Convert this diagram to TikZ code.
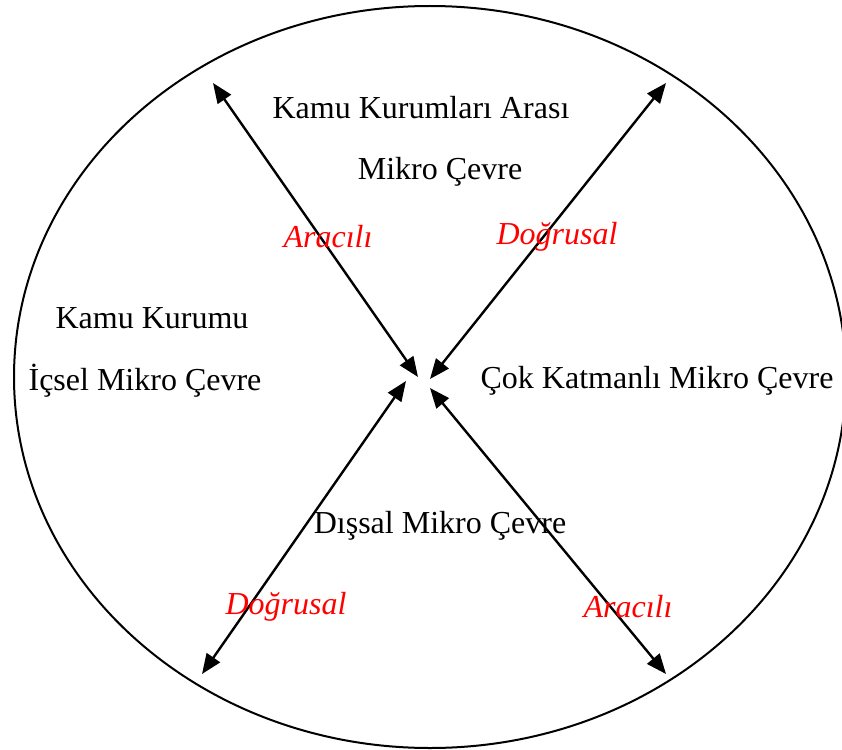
\documentclass[tikz,border=0pt]{standalone}
\usepackage{fontspec}
\setmainfont{Liberation Serif}
\usetikzlibrary{arrows.meta}
\begin{document}
\begin{tikzpicture}[x=1pt,y=-1pt,
  lbl/.style={font=\fontsize{32}{37}\selectfont, inner sep=0pt, anchor=center},
  rlbl/.style={font=\fontsize{32}{37}\selectfont\itshape, text=red, inner sep=0pt, anchor=center},
  dbl/.style={line width=2.4pt, {Triangle[length=20pt,width=16pt]}-{Triangle[length=20pt,width=16pt]}}]
\useasboundingbox (0,0) rectangle (842,749);
\begin{scope}
\clip (0,0) rectangle (842,749);
\draw[line width=2pt] (430,377) ellipse [x radius=416, y radius=371];
\end{scope}
\coordinate (tlo) at (213,83);
\coordinate (tli) at (418,377);
\coordinate (tro) at (666,83);
\coordinate (tri) at (430,379);
\coordinate (blo) at (202,674);
\coordinate (bli) at (406,381);
\coordinate (bro) at (666,674);
\coordinate (bri) at (430,388);
\draw[dbl] (tlo) -- (tli);
\draw[dbl] (tro) -- (tri);
\draw[dbl] (blo) -- (bli);
\draw[dbl] (bro) -- (bri);
\node[lbl] (t1) at (421,108) {Kamu Kurumları Arası};
\node[lbl] (t2) at (440,172) {Mikro Çevre};
\node[lbl] (l1) at (152,318) {Kamu Kurumu};
\node[lbl] (l2) at (145,381) {İçsel Mikro Çevre};
\node[lbl] (r1) at (657,381) {Çok Katmanlı Mikro Çevre};
\node[lbl] (b1) at (440,526) {Dışsal Mikro Çevre};
\node[rlbl] (a1) at (328,237) {Aracılı};
\node[rlbl] (d1) at (557,237) {Doğrusal};
\node[rlbl] (d2) at (286,607) {Doğrusal};
\node[rlbl] (a2) at (628,607) {Aracılı};
\end{tikzpicture}
\end{document}
